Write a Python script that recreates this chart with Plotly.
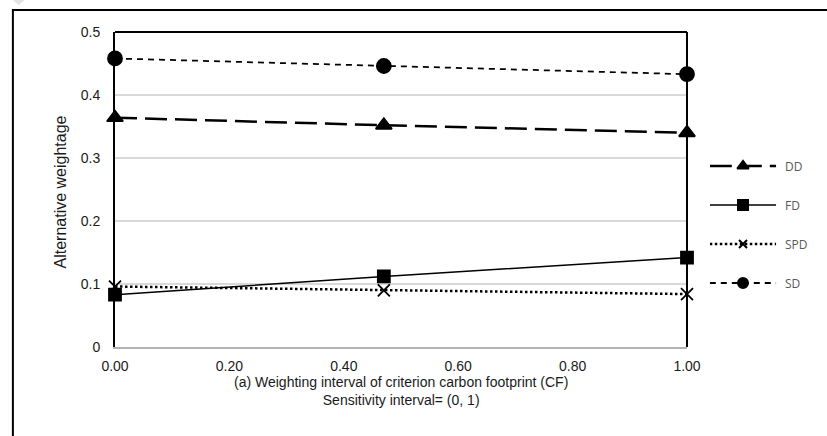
import plotly.graph_objects as go

# ---- data ----
x_vals = [0.0, 0.47, 1.0]
series_names = ["DD", "FD", "SPD", "SD"]
dd = [0.364, 0.352, 0.340]
fd = [0.083, 0.112, 0.142]
spd = [0.096, 0.090, 0.084]
sd = [0.458, 0.446, 0.433]
y_ticks = [0, 0.1, 0.2, 0.3, 0.4, 0.5]
x_ticks = [0, 0.2, 0.4, 0.6, 0.8, 1.0]
x_title = "(a) Weighting interval of criterion carbon footprint (CF)<br>Sensitivity interval= (0, 1)"
y_title = "Alternative weightage"

# ---- geometry (pixels) ----
W, H = 827, 436
L, R, T, B = 115, 20, 32, 89
plot_w = W - L - R
plot_h = H - T - B
main_right_px = 692
FONT = "Liberation Sans, Arial"


def px(xp):
    return (xp - L) / plot_w


def py(yp):
    return (H - B - yp) / plot_h


styles = {
    "DD": dict(dash="22px,8px", width=2.5, symbol="triangle-up", size=14),
    "FD": dict(dash="solid", width=1.5, symbol="square", size=12),
    "SPD": dict(dash="2.5px,2.5px", width=2.5, symbol="x-thin", size=12),
    "SD": dict(dash="6px,5px", width=1.75, symbol="circle", size=14),
}
data_map = {"DD": dd, "FD": fd, "SPD": spd, "SD": sd}

fig = go.Figure()

for name in ["SD", "DD", "SPD", "FD"]:
    st = styles[name]
    fig.add_trace(go.Scatter(
        x=x_vals, y=data_map[name], mode="lines+markers", name=name,
        line=dict(color="black", width=st["width"], dash=st["dash"]),
        marker=dict(symbol=st["symbol"], size=st["size"], color="black",
                    line=dict(color="black", width=1.8)),
        showlegend=False, cliponaxis=False, xaxis="x", yaxis="y",
    ))

# custom legend on auxiliary axes
leg_rows_px = [166, 205, 244, 283]
for name, ypix in zip(series_names, leg_rows_px):
    st = styles[name]
    yy = py(ypix)
    fig.add_trace(go.Scatter(
        x=[0, 0.5, 1], y=[yy, yy, yy], mode="lines", xaxis="x2", yaxis="y2",
        line=dict(color="black", width=st["width"] if name != "SD" else 2, dash=st["dash"]),
        showlegend=False, hoverinfo="skip",
    ))
    fig.add_trace(go.Scatter(
        x=[0.5], y=[yy], mode="markers", xaxis="x2", yaxis="y2",
        marker=dict(symbol=st["symbol"], size=10 if name != "SPD" else 8, color="black",
                    line=dict(color="black", width=2)),
        showlegend=False, hoverinfo="skip", cliponaxis=False,
    ))
    fig.add_annotation(x=px(789), y=yy, xref="paper", yref="paper", text=name, showarrow=False,
                       xanchor="left", yanchor="middle",
                       font=dict(family="Open Sans", size=12, color="#595959"))

main_dom = (0, (main_right_px - L) / plot_w)
fig.update_layout(
    width=W, height=H,
    margin=dict(l=L, r=R, t=T, b=B),
    paper_bgcolor="white", plot_bgcolor="white",
    font=dict(family=FONT, color="#1a1a1a", size=12),
    xaxis=dict(domain=list(main_dom), range=[0, 1], tickvals=x_ticks, tickformat=".2f",
               showgrid=False, zeroline=False, showline=True, linecolor="#b3b3b3",
               linewidth=2, ticks="", ticklabelstandoff=5,
               tickfont=dict(size=14, family=FONT)),
    yaxis=dict(range=[0, 0.5], tickvals=y_ticks, ticktext=["0", "0.1", "0.2", "0.3", "0.4", "0.5"],
               showgrid=True, gridcolor="#d9d9d9", gridwidth=1.5, zeroline=False,
               showline=True, linecolor="black", linewidth=2, ticks="",
               ticklabelstandoff=10, tickfont=dict(size=14)),
    xaxis2=dict(domain=[px(715), px(782)], range=[0, 1], anchor="y2", visible=False),
    yaxis2=dict(domain=[0, 1], range=[0, 1], anchor="x2", visible=False),
)

# plot area top/right border
fig.add_shape(type="line", xref="x domain", yref="y domain", x0=0, x1=1, y0=1, y1=1,
              line=dict(color="black", width=2))
fig.add_shape(type="line", xref="x domain", yref="y domain", x0=1, x1=1, y0=0, y1=1,
              line=dict(color="black", width=2))

# outer chart border (left and top visible)
fig.add_shape(type="path", xref="paper", yref="paper",
              path=f"M {px(12)},{py(460)} L {px(12)},{py(10)} L {px(840)},{py(10)}",
              line=dict(color="black", width=2))
# small grey corner mark
fig.add_shape(type="path", xref="paper", yref="paper",
              path=f"M {px(12)},{py(0)} L {px(24)},{py(0)} L {px(18)},{py(5)} Z",
              fillcolor="#e3e3e3", line=dict(width=0))

# axis titles
fig.add_annotation(x=px(403), y=py(372), xref="paper", yref="paper", text=x_title,
                   showarrow=False, xanchor="center", yanchor="top",
                   font=dict(family=FONT, size=14, color="#1a1a1a"))
fig.add_annotation(x=px(60), y=py(192), xref="paper", yref="paper", text=y_title,
                   showarrow=False, textangle=-90, xanchor="center", yanchor="middle",
                   font=dict(family=FONT, size=16, color="#1a1a1a"))

fig.write_html("out.html")
